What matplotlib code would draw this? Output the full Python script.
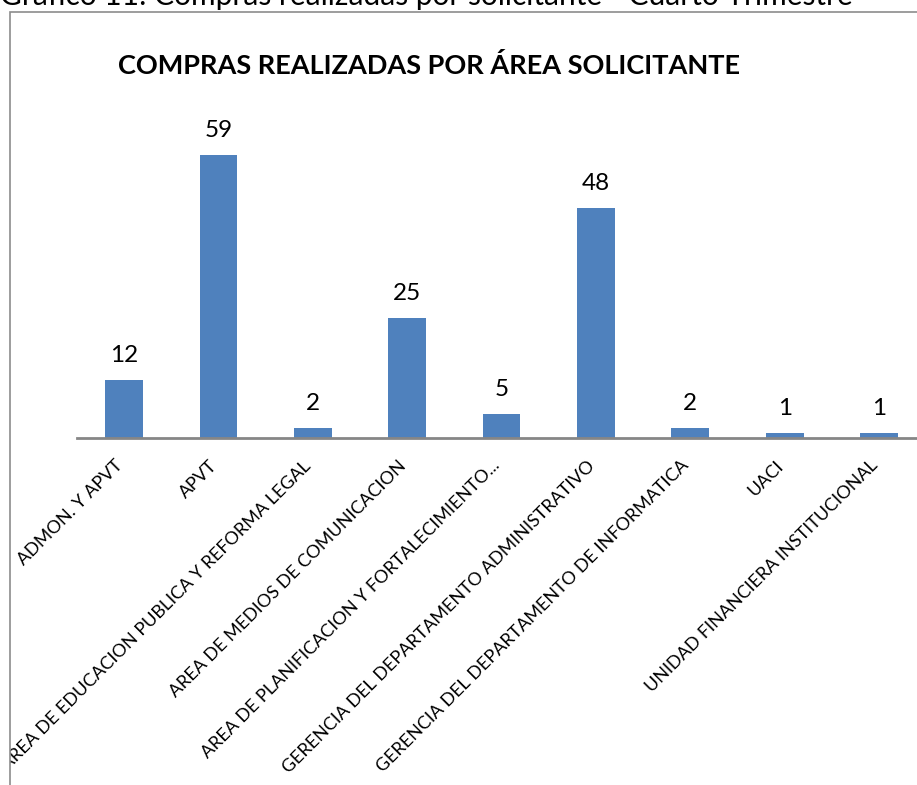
import matplotlib

matplotlib.use("Agg")
import matplotlib.pyplot as plt
from matplotlib.patches import Rectangle

plt.rcParams["font.family"] = ["Lato", "DejaVu Sans"]

categories = [
    "ADMON. Y APVT",
    "APVT",
    "AREA DE EDUCACION PUBLICA Y REFORMA LEGAL",
    "AREA DE MEDIOS DE COMUNICACION",
    "AREA DE PLANIFICACION Y FORTALECIMIENTO...",
    "GERENCIA DEL DEPARTAMENTO ADMINISTRATIVO",
    "GERENCIA DEL DEPARTAMENTO DE INFORMATICA",
    "UACI",
    "UNIDAD FINANCIERA INSTITUCIONAL",
]
compras = [12, 59, 2, 25, 5, 48, 2, 1, 1]

W, H = 917, 785
fig = plt.figure(figsize=(W / 100, H / 100), dpi=100)

# outer chart frame (cut at right and bottom like the source)
frame = Rectangle((10 / W, -0.01), 1.0, 1 - 12 / H + 0.01, transform=fig.transFigure,
                  fill=False, edgecolor="#8c8c8c", linewidth=1.2)
fig.patches.append(frame)

# caption above the chart, only its lower part is visible in the source
fig.text(0.0, 1 - 5 / H, "Gráfico 11: Compras realizadas por solicitante - Cuarto Trimestre",
         fontsize=21.5, ha="left", va="baseline", color="black")

ax = fig.add_axes([77 / W, (H - 438) / H, (W - 77) / W + 0.01, 336 / H])
x = list(range(len(categories)))
bars = ax.bar(x, compras, width=0.4, color="#4F81BD", zorder=2)
ax.set_xlim(-0.5, len(categories) - 0.5)
ax.set_ylim(0, 70)

for b, v in zip(bars, compras):
    ax.annotate(str(v), (b.get_x() + b.get_width() / 2, v), xytext=(0, 13),
                textcoords="offset points", ha="center", va="baseline", fontsize=17.5)

for s in ["top", "right", "left"]:
    ax.spines[s].set_visible(False)
ax.spines["bottom"].set_color("#868686")
ax.spines["bottom"].set_linewidth(2)
ax.set_yticks([])
ax.set_xticks([])

# category labels, rotated like Excel does it
for i, name in zip(x, categories):
    t = ax.annotate(name, (i, 0), xycoords=ax.get_xaxis_transform(),
                    xytext=(-7, -14), textcoords="offset points",
                    rotation=45, rotation_mode="anchor", ha="right", va="top",
                    fontsize=13, annotation_clip=False)
    t.set_clip_path(frame)

fig.text(118 / W, 1 - 66 / H, "COMPRAS REALIZADAS POR ÁREA SOLICITANTE",
         fontsize=19.5, fontweight="bold", ha="left", va="center")

fig.savefig("out.png", dpi=100)
